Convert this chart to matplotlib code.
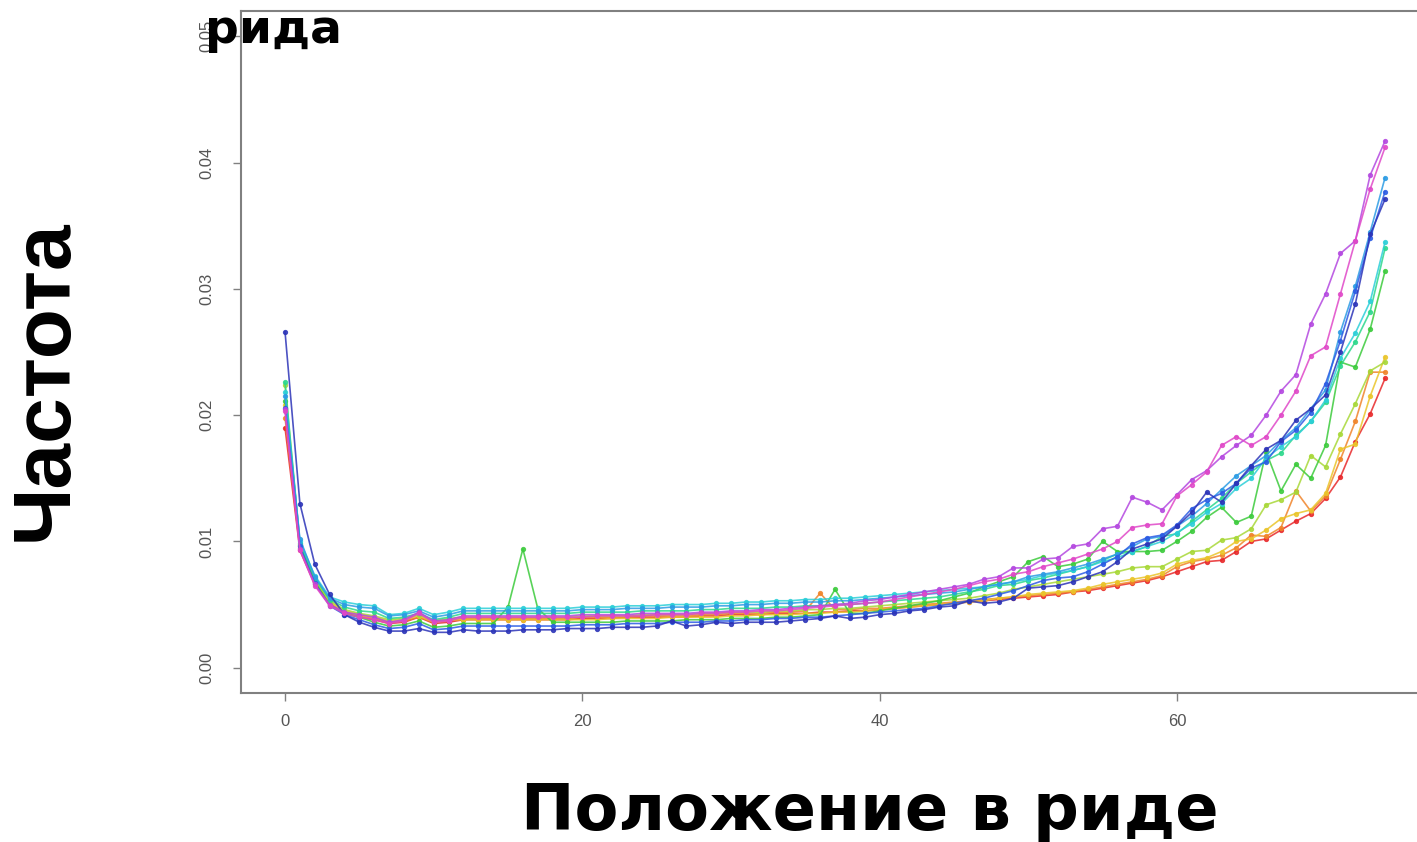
import numpy as np
import matplotlib
matplotlib.use("Agg")
import matplotlib.pyplot as plt

# position in read (0..74)
positions = list(range(75))

# frequencies per series, in thousandths (x 1e-3)
red = [19.0, 9.3, 6.6, 5.0, 4.3, 4.0, 3.8, 3.5, 3.6, 4.0, 3.5, 3.6,
       3.8, 3.8, 3.8, 3.8, 3.8, 3.8, 3.8, 3.8, 3.9,
       3.9, 3.9, 4.0, 4.0, 4.0, 4.0, 4.0, 4.1, 4.1, 4.2,
       4.2, 4.2, 4.3, 4.3, 4.3, 4.4, 4.4, 4.5, 4.5, 4.6,
       4.7, 4.8, 4.9, 5.0, 5.1, 5.2, 5.3, 5.4, 5.5, 5.6,
       5.7, 5.8, 6.0, 6.1, 6.3, 6.5, 6.7, 6.9, 7.2, 7.6,
       8.0, 8.4, 8.5, 9.2, 10.0, 10.2, 10.9, 11.6, 12.2, 13.4,
       15.1, 17.9, 20.1, 22.9]
orange = [19.8, 9.5, 6.8, 5.1, 4.4, 4.1, 3.9, 3.6, 3.7, 4.0, 3.6, 3.7,
          3.9, 3.9, 3.9, 3.9, 3.9, 3.9, 3.9, 3.9, 4.0,
          4.0, 4.0, 4.0, 4.1, 4.1, 4.1, 4.1, 4.2, 4.2, 4.3,
          4.3, 4.3, 4.4, 4.4, 4.5, 5.9, 4.6, 4.6, 4.7, 4.7,
          4.8, 4.9, 5.0, 5.1, 5.2, 5.3, 5.4, 5.5, 5.6, 5.7,
          5.8, 5.9, 6.0, 6.2, 6.4, 6.6, 6.8, 7.0, 7.3, 8.0,
          8.4, 8.6, 8.9, 9.5, 10.5, 10.4, 11.1, 14.0, 12.4, 13.6,
          16.5, 19.5, 23.4, 23.4]
gold = [20.8, 9.6, 6.9, 5.2, 4.5, 4.2, 4.0, 3.7, 3.8, 4.1, 3.6, 3.8,
        3.8, 3.8, 3.8, 3.8, 3.8, 3.8, 3.8, 3.8, 3.8,
        3.8, 3.9, 3.9, 3.9, 3.9, 4.0, 4.0, 4.0, 4.0, 4.1,
        4.1, 4.2, 4.2, 4.2, 4.3, 4.3, 4.4, 4.4, 4.5, 4.6,
        4.7, 4.8, 4.9, 5.0, 5.1, 5.2, 5.3, 5.5, 5.6, 5.8,
        5.9, 6.0, 6.1, 6.3, 6.6, 6.8, 7.0, 7.2, 7.5, 8.2,
        8.5, 8.7, 9.2, 10.0, 10.2, 10.9, 11.8, 12.2, 12.5, 13.8,
        17.3, 17.7, 21.5, 24.6]
yellowgreen = [22.4, 9.8, 7.0, 5.3, 4.6, 4.3, 4.1, 3.8, 3.9, 4.2, 3.7, 3.9,
               4.0, 4.0, 4.0, 4.0, 4.0, 4.0, 4.0, 4.0, 4.1,
               4.1, 4.1, 4.1, 4.2, 4.2, 4.2, 4.2, 4.3, 4.3, 4.4,
               4.4, 4.4, 4.5, 4.5, 4.6, 4.6, 4.7, 4.7, 4.8, 4.9,
               5.0, 5.1, 5.2, 5.3, 5.4, 5.5, 5.7, 5.9, 6.2, 6.4,
               6.6, 6.8, 7.0, 7.2, 7.4, 7.6, 7.9, 8.0, 8.0, 8.6,
               9.2, 9.3, 10.1, 10.3, 11.0, 12.9, 13.3, 13.9, 16.8, 15.9,
               18.5, 20.9, 23.5, 24.2]
green = [21.1, 9.7, 6.8, 5.0, 4.3, 4.0, 3.6, 3.3, 3.4, 3.7, 3.2, 3.3,
         3.5, 3.5, 3.5, 4.8, 9.4, 4.7, 3.6, 3.6, 3.6,
         3.6, 3.6, 3.7, 3.7, 3.7, 3.7, 3.8, 3.8, 3.8, 3.9,
         3.9, 3.9, 4.0, 4.0, 4.1, 4.2, 6.2, 4.3, 4.3, 4.5,
         4.7, 4.9, 5.1, 5.3, 5.6, 5.9, 6.4, 6.8, 7.2, 8.4,
         8.8, 8.0, 8.2, 8.6, 10.0, 9.2, 9.2, 9.2, 9.3, 10.0,
         10.8, 11.9, 12.7, 11.5, 12.0, 17.1, 14.0, 16.1, 15.0, 17.6,
         24.2, 23.8, 26.8, 31.4]
springgreen = [22.6, 9.9, 7.1, 5.4, 4.8, 4.5, 4.4, 3.9, 4.0, 4.3, 3.8, 4.0,
               4.3, 4.3, 4.3, 4.3, 4.3, 4.3, 4.3, 4.3, 4.4,
               4.4, 4.4, 4.4, 4.5, 4.5, 4.5, 4.5, 4.6, 4.6, 4.7,
               4.7, 4.7, 4.8, 4.8, 4.9, 4.9, 5.0, 5.0, 5.1, 5.2,
               5.3, 5.4, 5.5, 5.6, 5.8, 6.0, 6.2, 6.5, 6.6, 6.9,
               7.1, 7.4, 7.7, 8.0, 8.5, 9.0, 9.2, 9.6, 10.4, 10.6,
               11.6, 12.5, 13.4, 14.6, 15.5, 16.4, 17.0, 18.4, 19.5, 21.0,
               23.9, 25.8, 28.2, 33.2]
cyan = [21.8, 10.0, 7.3, 5.6, 5.2, 5.0, 4.9, 4.2, 4.3, 4.7, 4.2, 4.4,
        4.7, 4.7, 4.7, 4.7, 4.7, 4.7, 4.7, 4.7, 4.8,
        4.8, 4.8, 4.9, 4.9, 4.9, 5.0, 5.0, 5.0, 5.1, 5.1,
        5.2, 5.2, 5.3, 5.3, 5.4, 5.4, 5.5, 5.5, 5.6, 5.7,
        5.8, 5.9, 6.0, 6.1, 6.2, 6.3, 6.4, 6.6, 6.8, 7.0,
        7.3, 7.5, 7.7, 8.0, 8.4, 8.7, 9.2, 9.6, 10.0, 10.7,
        11.4, 12.3, 13.0, 14.2, 15.0, 16.6, 17.5, 18.3, 19.5, 21.2,
        24.5, 26.5, 29.0, 33.7]
skyblue = [21.5, 10.2, 7.2, 5.5, 5.0, 4.8, 4.7, 4.1, 4.2, 4.5, 4.0, 4.2,
           4.5, 4.5, 4.5, 4.5, 4.5, 4.5, 4.5, 4.5, 4.6,
           4.6, 4.6, 4.7, 4.7, 4.7, 4.8, 4.8, 4.8, 4.9, 4.9,
           5.0, 5.0, 5.1, 5.1, 5.2, 5.2, 5.3, 5.3, 5.4, 5.5,
           5.6, 5.7, 5.8, 5.9, 6.0, 6.2, 6.4, 6.6, 6.8, 7.2,
           7.4, 7.6, 7.9, 8.2, 8.6, 9.0, 9.6, 10.2, 10.4, 11.2,
           12.0, 13.0, 14.1, 15.2, 16.0, 16.8, 18.0, 19.0, 20.5, 22.0,
           26.6, 30.2, 34.5, 38.8]
blue = [20.6, 9.6, 6.7, 4.9, 4.2, 3.8, 3.4, 3.1, 3.2, 3.5, 3.0, 3.1,
        3.3, 3.3, 3.3, 3.3, 3.3, 3.3, 3.3, 3.3, 3.4,
        3.4, 3.4, 3.5, 3.5, 3.5, 3.6, 3.6, 3.6, 3.7, 3.7,
        3.8, 3.8, 3.9, 3.9, 4.0, 4.0, 4.1, 4.2, 4.3, 4.4,
        4.5, 4.6, 4.7, 4.9, 5.1, 5.3, 5.5, 5.8, 6.1, 6.5,
        6.9, 7.1, 7.2, 7.6, 8.2, 8.8, 9.8, 10.3, 10.5, 11.3,
        12.6, 13.3, 13.8, 14.6, 15.8, 16.3, 17.9, 18.8, 20.2, 22.5,
        25.9, 29.8, 34.0, 37.7]
darkblue = [26.6, 13.0, 8.2, 5.8, 4.2, 3.6, 3.2, 2.9, 2.9, 3.1, 2.8, 2.8,
            3.0, 2.9, 2.9, 2.9, 3.0, 3.0, 3.0, 3.1, 3.1,
            3.1, 3.2, 3.2, 3.2, 3.3, 3.7, 3.3, 3.4, 3.6, 3.5,
            3.6, 3.6, 3.6, 3.7, 3.8, 3.9, 4.1, 3.9, 4.0, 4.2,
            4.3, 4.5, 4.6, 4.8, 4.9, 5.3, 5.1, 5.2, 5.5, 6.3,
            6.4, 6.5, 6.8, 7.2, 7.6, 8.4, 9.4, 9.8, 10.2, 11.2,
            12.3, 13.9, 13.1, 14.6, 16.0, 17.3, 18.0, 19.6, 20.5, 21.6,
            25.0, 28.8, 34.3, 37.1]
purple = [20.5, 9.4, 6.6, 5.0, 4.4, 4.2, 4.0, 3.6, 3.8, 4.4, 3.7, 3.8,
          4.1, 4.1, 4.1, 4.1, 4.1, 4.1, 4.1, 4.1, 4.2,
          4.2, 4.2, 4.2, 4.3, 4.3, 4.3, 4.3, 4.4, 4.4, 4.5,
          4.5, 4.6, 4.6, 4.7, 4.8, 4.9, 5.0, 5.1, 5.3, 5.4,
          5.6, 5.8, 6.0, 6.2, 6.4, 6.6, 7.0, 7.2, 7.9, 7.9,
          8.6, 8.7, 9.6, 9.8, 11.0, 11.2, 13.5, 13.1, 12.5, 13.7,
          14.9, 15.6, 16.7, 17.6, 18.4, 20.0, 21.9, 23.2, 27.2, 29.6,
          32.8, 33.8, 39.0, 41.7]
magenta = [20.3, 9.3, 6.5, 4.9, 4.3, 4.0, 3.8, 3.5, 3.7, 4.3, 3.6, 3.7,
           4.0, 4.0, 4.0, 4.0, 4.0, 4.0, 4.0, 4.0, 4.0,
           4.1, 4.1, 4.1, 4.1, 4.2, 4.2, 4.2, 4.3, 4.3, 4.4,
           4.4, 4.5, 4.5, 4.6, 4.7, 4.8, 4.9, 5.0, 5.1, 5.2,
           5.4, 5.6, 5.8, 6.0, 6.2, 6.5, 6.8, 7.0, 7.4, 7.6,
           8.0, 8.3, 8.6, 9.0, 9.4, 10.0, 11.1, 11.3, 11.4, 13.6,
           14.5, 15.5, 17.6, 18.3, 17.6, 18.3, 20.0, 21.9, 24.7, 25.4,
           29.6, 33.8, 37.9, 41.2]

series = [red, orange, gold, yellowgreen, green, springgreen,
          cyan, skyblue, blue, darkblue, purple, magenta]
colors = ["#E8282A", "#F0842A", "#EAC52A", "#A8D838", "#3CCB3C", "#2CD88C",
          "#2CCFD8", "#2C9CE4", "#2C5CE4", "#2C34B8", "#B448E0", "#E048C8"]

y_ticks = [0.00, 0.01, 0.02, 0.03, 0.04, 0.05]
x_ticks = [0, 20, 40, 60]

fig = plt.figure(figsize=(14.17, 8.42), dpi=100)
ax = fig.add_axes([0.1701, 0.1770, 0.8384, 0.8100])

for vals, col in zip(series, colors):
    ax.plot(positions, np.array(vals) / 1000.0, color=col, lw=1.2,
            marker="o", ms=2.8, mec=col, alpha=0.85)

ax.set_xlim(-2.96, 76.96)
ax.set_ylim(-0.002, 0.052)
ax.set_xticks(x_ticks)
ax.set_yticks(y_ticks)
ax.set_yticklabels([f"{v:.2f}" for v in y_ticks], rotation=90, va="center")
for s in ["left", "top", "bottom"]:
    ax.spines[s].set_color("#808080")
    ax.spines[s].set_linewidth(1.5)
ax.spines["right"].set_visible(False)
ax.tick_params(axis="both", colors="#808080", length=6, width=1.0,
               labelcolor="#555555", labelsize=12)
ax.tick_params(axis="x", pad=9)
ax.tick_params(axis="y", pad=13)
for lab in ax.get_xticklabels() + ax.get_yticklabels():
    lab.set_family("Liberation Sans")

fig.text(0.1447, 0.949, "рида", family="DejaVu Sans", weight="bold",
         fontsize=34, ha="left", va="baseline")
fig.text(0.032, 0.5487, "Частота", family="Liberation Sans", weight="bold",
         fontsize=59, rotation=90, ha="center", va="center")
fig.text(0.614, 0.0143, "Положение в риде", family="DejaVu Sans",
         weight="bold", fontsize=46, ha="center", va="baseline")

fig.savefig("out.png", dpi=100)
